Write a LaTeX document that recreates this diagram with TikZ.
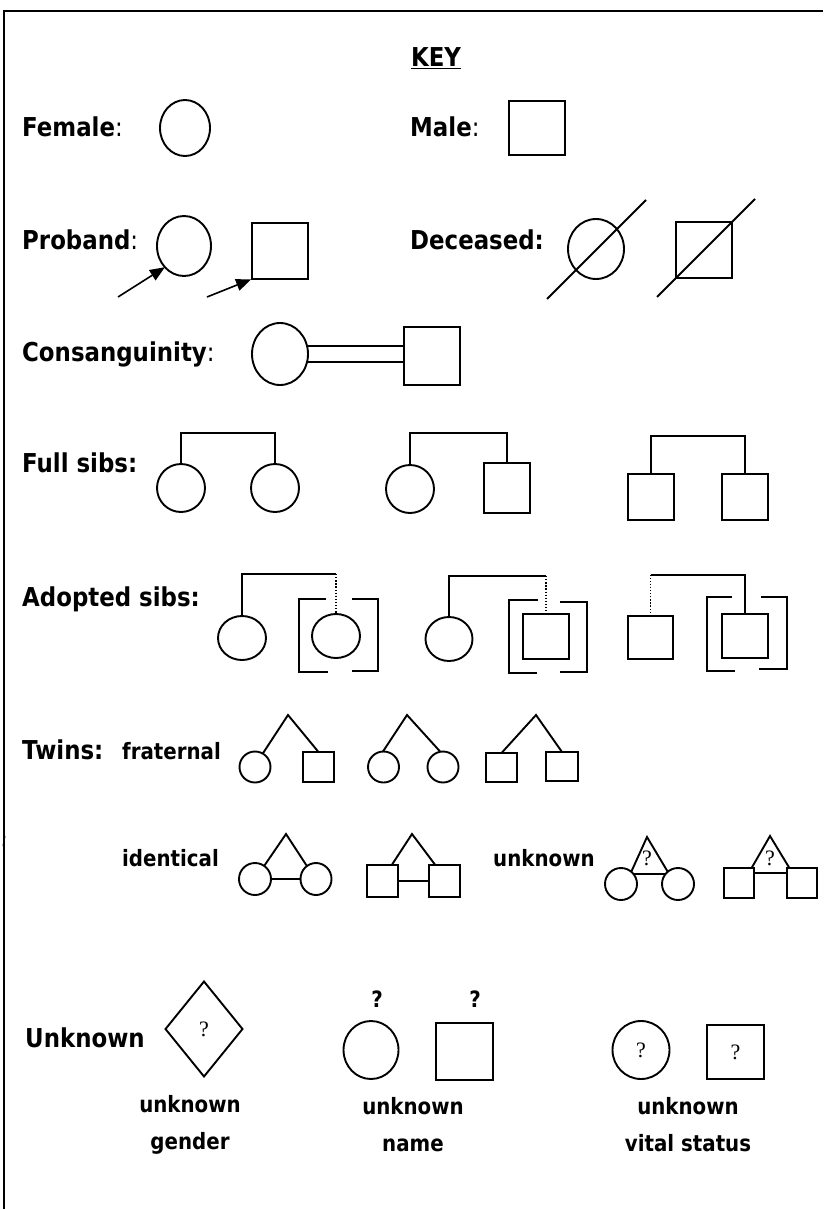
\documentclass[tikz,border=0pt]{standalone}
\usepackage{fontspec}
\setmainfont{DejaVu Sans}[FakeStretch=0.88]
\newfontfamily\myserif{Liberation Serif}
\usetikzlibrary{shapes.geometric,arrows.meta}
\newcommand\mylbl{\bfseries\fontsize{26}{30}\selectfont}
\newcommand\mysub{\bfseries\fontsize{22.5}{37}\selectfont}
\newcommand\myq{\myserif\fontsize{22}{24}\selectfont}
\begin{document}
\begin{tikzpicture}[x=1pt,y=-1pt,
  sh/.style={draw, line width=1.9pt, inner sep=0pt, outer sep=0pt},
  fem/.style 2 args={sh, ellipse, minimum width=#1, minimum height=#2},
  mal/.style 2 args={sh, rectangle, minimum width=#1, minimum height=#2},
  dia/.style 2 args={sh, diamond, minimum width=#1, minimum height=#2},
  lbl/.style={anchor=base west, inner sep=0pt, font=\mylbl},
  sub/.style={anchor=base west, inner sep=0pt, font=\mysub},
  ln/.style={line width=1.9pt},
  dotl/.style={line width=1.4pt, dash pattern=on 1.3pt off 1.8pt},
  arr/.style={line width=1.6pt, -{Triangle[length=15pt,width=12pt]}},
  qs/.style={inner sep=0pt, font=\myq},
]
\useasboundingbox (0,0) rectangle (823,1209);
% frame
\draw[line width=2pt] (4,1209) -- (4,11) -- (823,11);
\draw[line width=1pt] (3,846) -- (5,836);
% KEY
\node[font=\mylbl, inner sep=0pt] (key) at (436,58) {\underline{KEY}};
% row 1
\node[lbl] (lf) at (22,137) {Female\textmd{:}};
\node[fem={50pt}{56pt}] (f1) at (185,128) {};
\node[lbl] (lm) at (410,137) {Male\textmd{:}};
\node[mal={56pt}{54pt}] (m1) at (537,128) {};
% row 2
\node[lbl] (lp) at (22,249) {Proband\textmd{:}};
\node[fem={54pt}{60pt}] (pc) at (184,246) {};
\node[mal={56pt}{56pt}] (ps) at (280,251) {};
\coordinate (pa1) at (118,297);
\coordinate (pa2) at (207,297);
\draw[arr] (pa1) -- (pc.south west);
\draw[arr, shorten >=1pt] (pa2) -- (ps.south west);
\node[lbl] (ld) at (410,249) {Deceased:};
\node[fem={56pt}{60pt}] (dc) at (596,249) {};
\coordinate (dca) at (547,299);
\coordinate (dcb) at (646,200);
\draw[ln] (dca) -- (dcb);
\node[mal={56pt}{56pt}] (dsq) at (704,250) {};
\coordinate (dsa) at (657,297);
\coordinate (dsb) at (755,199);
\draw[ln] (dsa) -- (dsb);
% row 3
\node[lbl] (lc) at (22,361) {Consanguinity\textmd{:}};
\node[fem={56pt}{62pt}] (cc) at (280,354) {};
\node[mal={56pt}{58pt}] (cs) at (432,356) {};
\draw[ln] (cc.17) -- (cc.17 -| cs.west);
\draw[ln] (cc.-17) -- (cc.-17 -| cs.west);
% full sibs
\node[lbl] (lfs) at (22,472) {Full sibs:};
\coordinate (b1) at (0,433);
\coordinate (b2) at (0,436);
\node[fem={48pt}{48pt}] (a1) at (181,488) {};
\node[fem={48pt}{48pt}] (a2) at (275,488) {};
\draw[ln] (a1.north) -- (a1.north |- b1) -- (a2.north |- b1) -- (a2.north);
\node[fem={48pt}{48pt}] (a3) at (410,489) {};
\node[mal={46pt}{50pt}] (a4) at (507,488) {};
\draw[ln] (a3.north) -- (a3.north |- b1) -- (a4.north |- b1) -- (a4.north);
\node[mal={46pt}{46pt}] (a5) at (651,497) {};
\node[mal={46pt}{46pt}] (a6) at (745,497) {};
\draw[ln] (a5.north) -- (a5.north |- b2) -- (a6.north |- b2) -- (a6.north);
% adopted sibs
\node[lbl] (las) at (22,606) {Adopted sibs:};
\coordinate (b3) at (0,574);
\coordinate (b4) at (0,576);
\coordinate (b5) at (0,575);
\node[fem={48pt}{44pt}] (c1) at (242,638) {};
\node[fem={48pt}{44pt}] (c2) at (336,636) {};
\draw[ln] (c1.north) -- (c1.north |- b3) -- (c2.north |- b3);
\draw[dotl] (c2.north |- b3) -- (c2.north);
\draw[ln] (326,599) -- (299,599) -- (299,672) -- (328,672);
\draw[ln] (352,599) -- (378,599) -- (378,671) -- (352,671);
\node[fem={47pt}{44pt}] (c3) at (449,639) {};
\node[mal={46pt}{45pt}] (c4) at (546,636.5) {};
\draw[ln] (c3.north) -- (c3.north |- b4) -- (c4.north |- b4);
\draw[dotl] (c4.north |- b4) -- (c4.north);
\draw[ln] (538,600) -- (509,600) -- (509,673) -- (537,673);
\draw[ln] (560,602) -- (587,602) -- (587,672) -- (560,672);
\node[mal={45pt}{43pt}] (c5) at (650.5,637.5) {};
\node[mal={46pt}{44pt}] (c6) at (745,636) {};
\draw[dotl] (c5.north) -- (c5.north |- b5);
\draw[ln] (c5.north |- b5) -- (c6.north |- b5) -- (c6.north);
\draw[ln] (732,597) -- (707,597) -- (707,671) -- (735,671);
\draw[ln] (761,597) -- (787,597) -- (787,669) -- (759,669);
% twins fraternal
\node[lbl] (lt) at (22,759) {Twins:};
\node[sub] (lfr) at (122,759) {fraternal};
\node[fem={31pt}{31pt}] (t1) at (255,767) {};
\node[mal={31pt}{30pt}] (t2) at (318.5,767) {};
\coordinate (ap1) at (288,715);
\draw[ln] (t1.60) -- (ap1) -- (t2.north);
\node[fem={31pt}{31pt}] (t3) at (383.5,767) {};
\node[fem={31pt}{31pt}] (t4) at (443,767) {};
\coordinate (ap2) at (407,715);
\draw[ln] (t3.92) -- (ap2) -- (t4.100);
\node[mal={31pt}{29pt}] (t5) at (501.5,767.5) {};
\node[mal={32pt}{29pt}] (t6) at (562,766.5) {};
\coordinate (ap3) at (536,715);
\draw[ln] (t5.north) -- (ap3) -- (t6.north);
% twins identical
\node[sub] (lid) at (122,866) {identical};
\node[fem={32pt}{32pt}] (i1) at (255,879) {};
\node[fem={31pt}{32pt}] (i2) at (316,879) {};
\coordinate (ap4) at (286,834);
\draw[ln] (i1.55) -- (ap4) -- (i2.125);
\draw[ln] (i1.east) -- (i2.west);
\node[mal={31pt}{32pt}] (i3) at (382.5,881) {};
\node[mal={31pt}{32pt}] (i4) at (444.5,881) {};
\coordinate (ap5) at (412,834);
\draw[ln] (i3.60) -- (ap5) -- (i4.120);
\draw[ln] (i3.east) -- (i4.west);
% twins unknown
\node[sub] (lun) at (493,866) {unknown};
\node[fem={32pt}{32pt}] (u1) at (621,884) {};
\node[fem={32pt}{32pt}] (u2) at (678,884) {};
\coordinate (ap6) at (647,837);
\draw[ln] (u1.50) -- (ap6) -- (u2.130);
\draw[ln] (u1.40) -- (u2.140);
\node[qs] (uq1) at (647,858) {?};
\node[mal={30pt}{30pt}] (u3) at (739,883) {};
\node[mal={30pt}{30pt}] (u4) at (802,883) {};
\coordinate (ap7) at (770,836);
\draw[ln] (u3.50) -- (ap7) -- (u4.130);
\draw[ln] (u3.34) -- (u4.146);
\node[qs] (uq2) at (770,858) {?};
% unknown row
\node[lbl] (lu) at (25,1047) {Unknown};
\node[dia={77pt}{95pt}, font=\myq] (dg) at (204,1029) {?};
\node[sub, anchor=base] (q1) at (377,1007) {?};
\node[sub, anchor=base] (q2) at (475,1007) {?};
\node[fem={55pt}{58pt}] (n1) at (371,1050) {};
\node[mal={57pt}{57pt}] (n2) at (464.5,1051.5) {};
\node[fem={57pt}{58pt}, font=\myq] (v1) at (641,1050) {?};
\node[mal={57pt}{54pt}, font=\myq] (v2) at (735.5,1052) {?};
\node[font=\mysub, align=center, inner sep=0pt] (tg) at (190,1125) {unknown\\gender};
\node[font=\mysub, align=center, inner sep=0pt] (tn) at (413,1125) {unknown\\name};
\node[font=\mysub, align=center, inner sep=0pt] (tv) at (688,1125) {unknown\\vital status};
\end{tikzpicture}
\end{document}
